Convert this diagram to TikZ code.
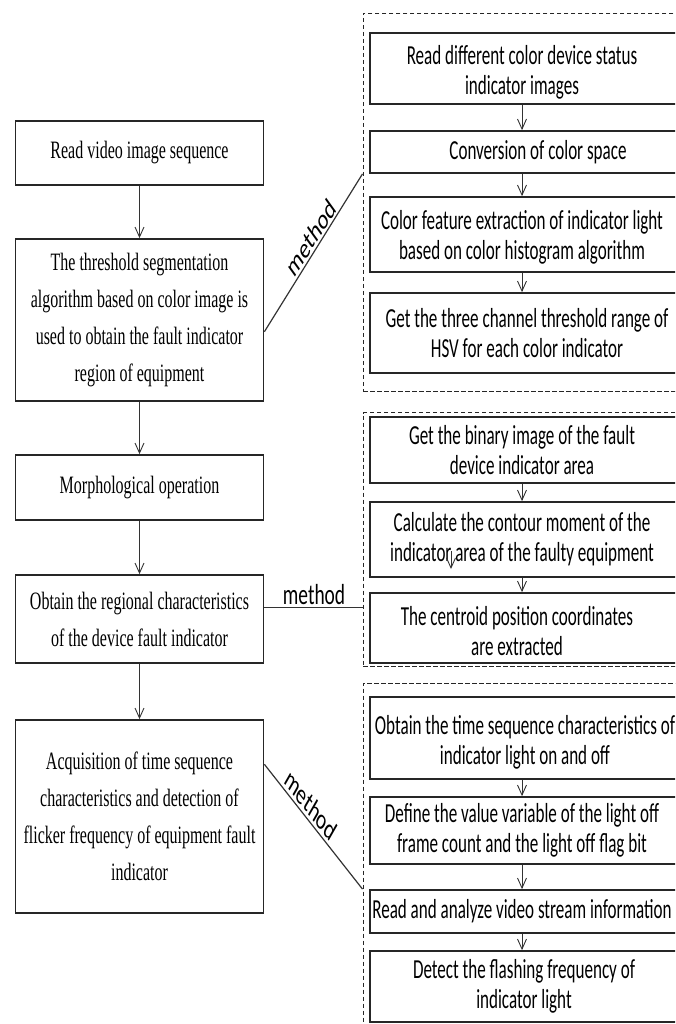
\documentclass[tikz,border=0pt]{standalone}
\usepackage{fontspec}
\newfontfamily\lfont[FakeStretch=0.64]{Liberation Serif}
\newfontfamily\rfont[FakeStretch=0.62]{Carlito}
\newfontfamily\mfont{Carlito}
\usetikzlibrary{arrows.meta}
\tikzset{
 lbox/.style={draw=black!85, line width=1.8pt, minimum width=248pt, inner sep=0pt, align=center, font=\lfont\fontsize{25}{37}\selectfont},
 rbox/.style={draw=black!85, line width=1.8pt, minimum width=330pt, inner sep=0pt},
 rtext/.style={align=center, inner sep=0pt, font=\rfont\fontsize{27.5}{30}\selectfont},
 dbox/.style={draw=black!85, line width=1pt, dash pattern=on 4.5pt off 2.5pt, minimum width=337pt, inner sep=0pt},
 arr/.style={draw=black!80, line width=0.9pt, -{Straight Barb[length=10pt,width=9pt]}},
 conn/.style={draw=black!80, line width=1.2pt},
 mlab/.style={inner sep=0pt, font=\mfont\fontsize{29}{30}\selectfont},
}
\begin{document}
\begin{tikzpicture}[x=1pt,y=1pt]
\useasboundingbox (0,0) rectangle (675,-1024);
\clip (0,0) rectangle (675,-1024);
% dashed groups
\node[dbox, minimum height=378.4pt] (D1) at (531.5,-202.5) {};
\node[dbox, minimum height=254pt] (D2) at (531.5,-539.7) {};
\node[dbox, minimum height=356.7pt] (D3) at (531.5,-861.7) {};
% left column
\node[lbox, minimum height=64pt] (L1) at (139.5,-153) {Read video image sequence};
\node[lbox, minimum height=162pt] (L2) at (139.5,-320) {The threshold segmentation\\algorithm based on color image is\\used to obtain the fault indicator\\region of equipment};
\node[lbox, minimum height=65pt] (L3) at (139.5,-487.5) {Morphological operation};
\node[lbox, minimum height=88pt] (L4) at (139.5,-619) {Obtain the regional characteristics\\of the device fault indicator};
\node[lbox, minimum height=193pt] (L5) at (139.5,-816.5) {Acquisition of time sequence\\characteristics and detection of\\flicker frequency of equipment fault\\indicator};
\draw[arr] (L1.south) -- (L2.north);
\draw[arr] (L2.south) -- (L3.north);
\draw[arr] (L3.south) -- (L4.north);
\draw[arr] (L4.south) -- (L5.north);
% right boxes
\node[rbox, minimum height=71pt] (R1) at (535,-68.5) {};
\node[rbox, minimum height=42pt] (R2) at (535,-152) {};
\node[rbox, minimum height=75pt] (R3) at (535,-234.5) {};
\node[rbox, minimum height=80pt] (R4) at (535,-333) {};
\node[rbox, minimum height=66pt] (R5) at (535,-450) {};
\node[rbox, minimum height=75pt] (R6) at (535,-539.5) {};
\node[rbox, minimum height=70pt] (R7) at (535,-628) {};
\node[rbox, minimum height=82pt] (R8) at (535,-738) {};
\node[rbox, minimum height=67pt] (R9) at (535,-830.5) {};
\node[rbox, minimum height=43pt] (R10) at (535,-911.5) {};
\node[rbox, minimum height=71pt] (R11) at (535,-986.5) {};
\node[rtext] (T1) at ([xshift=-13pt,yshift=-4pt]R1.center) {Read different color device status\\indicator images};
\node[rtext] (T2) at ([xshift=3pt]R2.center) {Conversion of color space};
\node[rtext] (T3) at ([xshift=-13pt,yshift=-3pt]R3.center) {Color feature extraction of indicator light\\based on color histogram algorithm};
\node[rtext] (T4) at ([xshift=-8pt]R4.center) {Get the three channel threshold range of\\HSV for each color indicator};
\node[rtext] (T5) at ([xshift=-13pt]R5.center) {Get the binary image of the fault\\device indicator area};
\node[rtext] (T6) at ([xshift=-13pt]R6.center) {Calculate the contour moment of the\\indicator area of the faulty equipment};
\node[rtext] (T7) at ([xshift=-18pt,yshift=-3pt]R7.center) {The centroid position coordinates\\are extracted};
\node[rtext] (T8) at ([xshift=-10pt,yshift=-4pt]R8.center) {Obtain the time sequence characteristics of\\indicator light on and off};
\node[rtext] (T9) at ([xshift=-13pt]R9.center) {Define the value variable of the light off\\frame count and the light off flag bit};
\node[rtext] (T10) at ([xshift=-13pt]R10.center) {Read and analyze video stream information};
\node[rtext] (T11) at ([xshift=-11pt]R11.center) {Detect the flashing frequency of\\indicator light};
\foreach \a/\b in {R1/R2,R2/R3,R3/R4,R5/R6,R6/R7,R8/R9,R9/R10,R10/R11}
  \draw[arr] ([xshift=-13pt]\a.south) -- ([xshift=-13pt]\b.north);
% stray arrow inside R6
\coordinate (s1) at (451,-551);
\coordinate (s2) at (451,-569);
\draw[arr] (s1) -- (s2);
% method connectors
\draw[conn] ([yshift=-11.7pt]L2.east) -- (R2.south -| D1.west);
\draw[conn] ([yshift=11.7pt]L4.east) -- ([yshift=11.7pt]L4.east -| D2.west);
\draw[conn] ([yshift=52.2pt]L5.east) -- (R10.north -| D3.west);
\begin{scope}[xscale=0.67]
\node[mlab, rotate=47, transform shape] (M1) at (464.2,-237.5) {method};
\node[mlab, rotate=-40.6, transform shape] (M3) at (464.2,-805) {method};
\node[mlab, transform shape] (M2) at (468.7,-595) {method};
\end{scope}
\end{tikzpicture}
\end{document}
